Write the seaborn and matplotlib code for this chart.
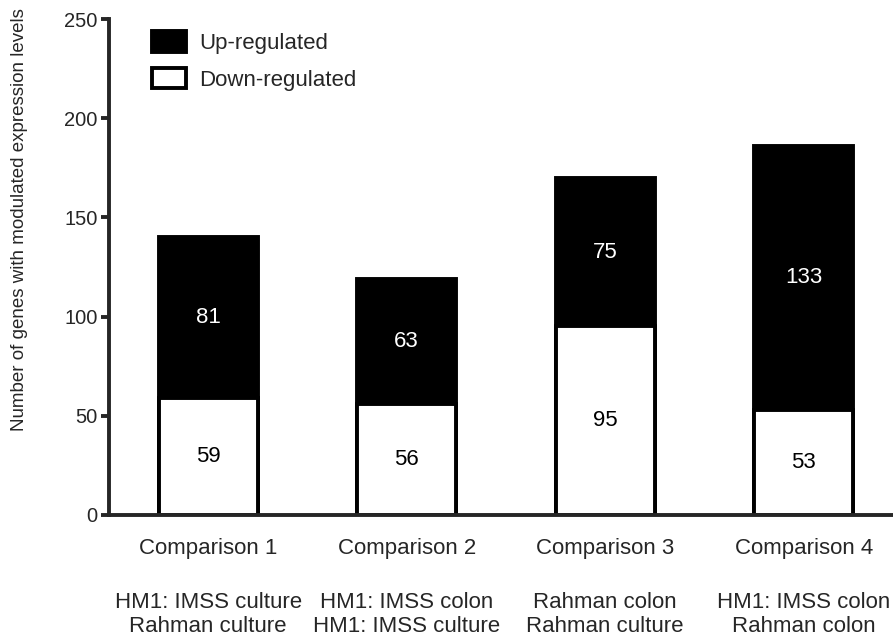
import numpy as np
import matplotlib
matplotlib.use('Agg')
import matplotlib.pyplot as plt
import pandas as pd
import seaborn as sns
from matplotlib.patches import Patch

# --- DATA ---
comparisons = ['Comparison 1', 'Comparison 2', 'Comparison 3', 'Comparison 4']
details = ['HM1: IMSS culture\nRahman culture',
           'HM1: IMSS colon\nHM1: IMSS culture',
           'Rahman colon\nRahman culture',
           'HM1: IMSS colon\nRahman colon']
up_regulated = [81, 63, 75, 133]
down_regulated = [59, 56, 95, 53]

df = pd.DataFrame({'Comparison': comparisons,
                   'Up': up_regulated,
                   'Down': down_regulated})
df['Total'] = df['Up'] + df['Down']

sns.set_style('ticks')
plt.rcParams['font.family'] = ['Liberation Sans', 'DejaVu Sans']

fig = plt.figure(figsize=(8.93, 6.38), dpi=100)
ax = fig.add_axes([0.122, 0.193, 0.878, 0.777])

LW = 2.8
# Total bar (black) then the down-regulated part drawn over it (white)
sns.barplot(data=df, x='Comparison', y='Total', color='black', width=0.5,
            edgecolor='black', linewidth=LW, saturation=1, ax=ax)
sns.barplot(data=df, x='Comparison', y='Down', color='white', width=0.5,
            edgecolor='black', linewidth=LW, saturation=1, ax=ax)

# value labels inside segments
for i, row in df.iterrows():
    ax.text(i, row['Down'] + row['Up'] / 2, str(row['Up']), color='white',
            ha='center', va='center', fontsize=16)
    ax.text(i, row['Down'] / 2, str(row['Down']), color='black',
            ha='center', va='center', fontsize=16)

ax.set_ylim(0, 250)
ax.set_yticks(np.arange(0, 251, 50))
ax.set_xlim(-0.5, 3.45)
ax.set_xticks(range(len(comparisons)))
ax.set_xticklabels(comparisons, fontsize=16)
ax.tick_params(axis='x', length=0, pad=17)
ax.tick_params(axis='y', width=LW, length=6, labelsize=14.5, pad=2)

# second line of x labels: what is compared
for i, d in enumerate(details):
    ax.annotate(d, xy=(i, -0.2016), xycoords=('data', 'axes fraction'),
                ha='center', va='center', fontsize=16, linespacing=1.2,
                annotation_clip=False)

ax.set_xlabel('')
ax.set_ylabel('Number of genes with modulated expression levels', fontsize=13.5)
ax.yaxis.set_label_coords(-0.103, 0.595)

for side in ['top', 'right']:
    ax.spines[side].set_visible(False)
for side in ['left', 'bottom']:
    ax.spines[side].set_linewidth(LW)

handles = [Patch(facecolor='black', edgecolor='black', linewidth=LW, label='Up-regulated'),
           Patch(facecolor='white', edgecolor='black', linewidth=LW, label='Down-regulated')]
ax.legend(handles=handles, loc='upper left', bbox_to_anchor=(0.03, 1.016),
          frameon=False, fontsize=16, handlelength=1.5, handleheight=1.05,
          labelspacing=0.62, handletextpad=0.6)

fig.savefig('out.png', dpi=100)
